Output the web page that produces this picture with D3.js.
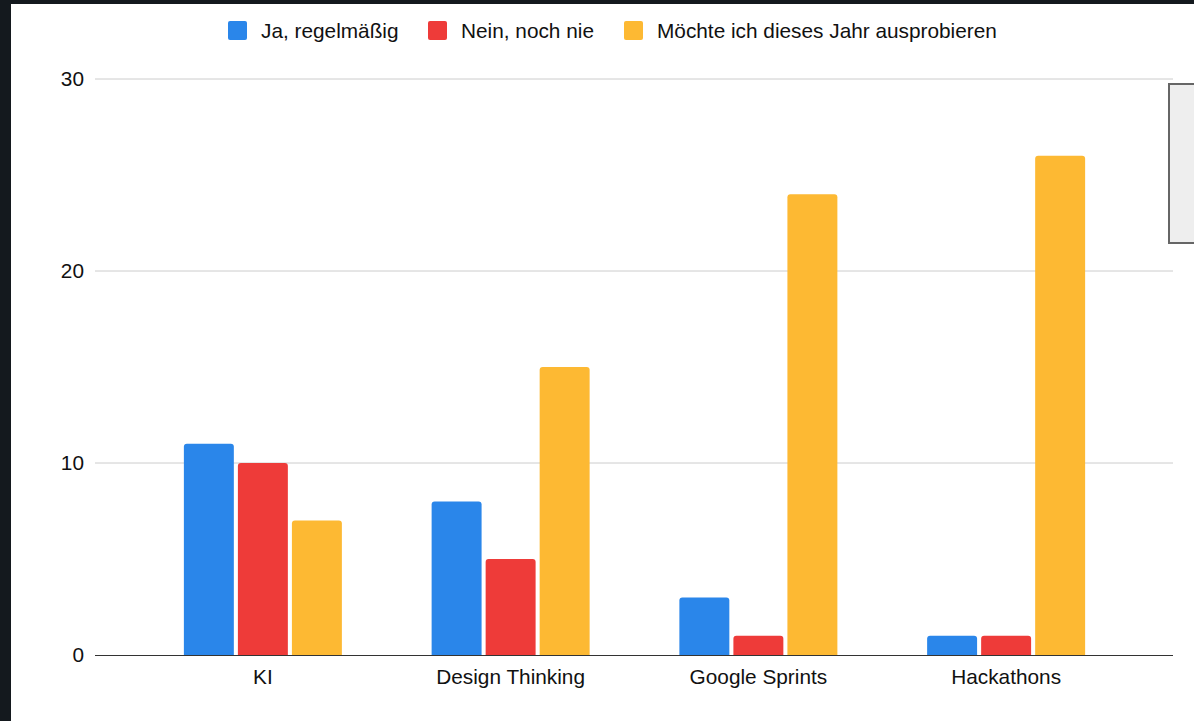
<!DOCTYPE html>
<html>
<head>
<meta charset="utf-8">
<script src="https://cdn.jsdelivr.net/npm/d3@7"></script>
<style>
  html, body { margin: 0; padding: 0; background: #14191e; }
  svg { display: block; }
</style>
</head>
<body>
<svg id="viz" width="1194" height="721"></svg>
<script>
var categories = ["KI", "Design Thinking", "Google Sprints", "Hackathons"];
var seriesNames = ["Ja, regelmäßig", "Nein, noch nie", "Möchte ich dieses Jahr ausprobieren"];
var seriesColors = ["#2a86ea", "#ee3b39", "#fdb933"];
var jaValues = [11, 8, 3, 1];
var neinValues = [10, 5, 1, 1];
var moechteValues = [7, 15, 24, 26];
var yTicks = [0, 10, 20, 30];

var seriesValues = [jaValues, neinValues, moechteValues];

var svg = d3.select("#viz");
var font = "Liberation Sans, Arial, sans-serif";
var fontSize = 20.8;

// dark screenshot border + white chart card
svg.append("rect").attr("x", 0).attr("y", 0).attr("width", 1194).attr("height", 721).attr("fill", "#14191e");
svg.append("rect").attr("x", 11).attr("y", 4).attr("width", 1183).attr("height", 717).attr("fill", "#ffffff");

var gridLeft = 95, gridRight = 1173;

var y = d3.scaleLinear().domain([0, 30]).range([655, 79]);
var x0 = d3.scaleBand().domain(categories).range([139, 1130]).paddingInner(0).paddingOuter(0);
var x1 = d3.scaleBand().domain(d3.range(seriesNames.length))
    .range([0, 158]).paddingInner(0.075);

// gridlines
svg.append("g").selectAll("line").data(yTicks.filter(function(d) { return d > 0; }))
    .enter().append("line")
    .attr("x1", gridLeft).attr("x2", gridRight)
    .attr("y1", function(d) { return y(d); }).attr("y2", function(d) { return y(d); })
    .attr("stroke", "#cccccc").attr("stroke-width", 1);

// y tick labels
svg.append("g").selectAll("text").data(yTicks)
    .enter().append("text")
    .attr("x", 84).attr("y", function(d) { return y(d); })
    .attr("dy", "0.35em")
    .attr("text-anchor", "end")
    .attr("font-family", font).attr("font-size", fontSize).attr("fill", "#111")
    .text(function(d) { return d; });

function topRounded(x, yTop, w, h, r) {
    r = Math.min(r, h, w / 2);
    return "M" + x + "," + (yTop + h) +
        "V" + (yTop + r) +
        "Q" + x + "," + yTop + " " + (x + r) + "," + yTop +
        "H" + (x + w - r) +
        "Q" + (x + w) + "," + yTop + " " + (x + w) + "," + (yTop + r) +
        "V" + (yTop + h) + "Z";
}

// bars
var groups = svg.append("g").selectAll("g").data(categories)
    .enter().append("g")
    .attr("transform", function(d) {
        return "translate(" + (x0(d) + x0.bandwidth() / 2 - 79) + ",0)";
    });

groups.selectAll("path")
    .data(function(d, i) {
        return seriesValues.map(function(s, j) { return { s: j, v: s[i] }; });
    })
    .enter().append("path")
    .attr("d", function(d) {
        return topRounded(x1(d.s), y(d.v), x1.bandwidth(), y(0) - y(d.v), 3);
    })
    .attr("fill", function(d) { return seriesColors[d.s]; });

// baseline
svg.append("line")
    .attr("x1", gridLeft).attr("x2", gridRight)
    .attr("y1", y(0) + 0.5).attr("y2", y(0) + 0.5)
    .attr("stroke", "#333").attr("stroke-width", 1.2);

// category labels
svg.append("g").selectAll("text").data(categories)
    .enter().append("text")
    .attr("x", function(d) { return x0(d) + x0.bandwidth() / 2; })
    .attr("y", 684)
    .attr("text-anchor", "middle")
    .attr("font-family", font).attr("font-size", fontSize).attr("fill", "#111")
    .text(function(d) { return d; });

// legend
var legendX = [228, 428, 624];
var legend = svg.append("g").selectAll("g").data(seriesNames)
    .enter().append("g")
    .attr("transform", function(d, i) { return "translate(" + legendX[i] + ",21)"; });
legend.append("rect")
    .attr("width", 19).attr("height", 19).attr("rx", 2)
    .attr("fill", function(d, i) { return seriesColors[i]; });
legend.append("text")
    .attr("x", 33).attr("y", 17)
    .attr("font-family", font).attr("font-size", fontSize).attr("fill", "#111")
    .text(function(d) { return d; });

// grey box at the right edge
svg.append("rect")
    .attr("x", 1169).attr("y", 84).attr("width", 30).attr("height", 159)
    .attr("fill", "#eeeeee").attr("stroke", "#666").attr("stroke-width", 2);
</script>
</body>
</html>
